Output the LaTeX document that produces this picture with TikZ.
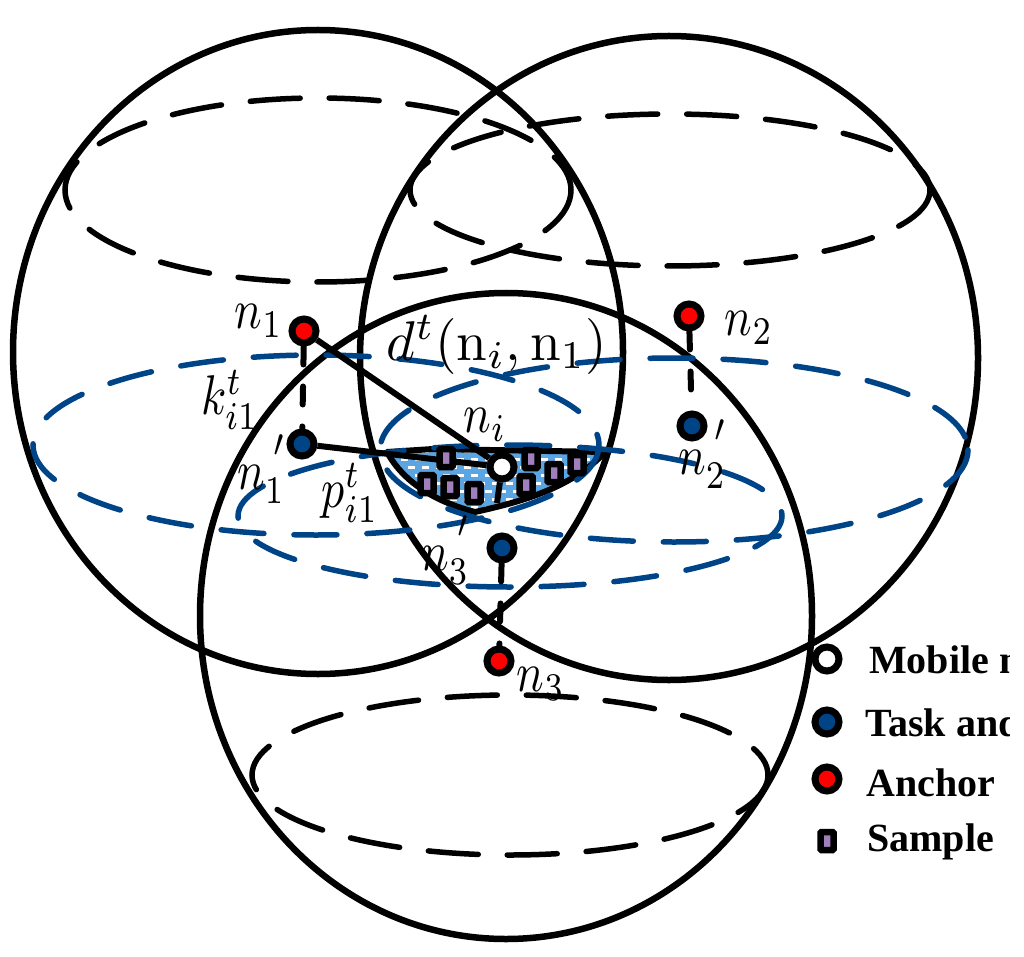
\documentclass[tikz,border=0pt]{standalone}
\usepackage{fontspec}
\newfontfamily\legendfont{Liberation Serif}
\usetikzlibrary{positioning}
\definecolor{navy}{HTML}{004488}
\definecolor{lensblue}{HTML}{5AA5E2}
\definecolor{sampleviolet}{HTML}{A080BC}
\newcommand{\hiprime}{^{\smash{\kern2pt\raisebox{.5ex}{$\scriptstyle\prime$}}}}
\tikzset{sphere/.style={draw=black,line width=6.5pt},blackdash/.style={draw=black,line width=5.5pt,line cap=round,dash pattern=on 50pt off 29pt},bluedash/.style={draw=navy,line width=5.5pt,line cap=round,dash pattern=on 43pt off 30pt},
dev/.style={circle,draw=black,line width=7pt,minimum size=24pt,inner sep=0pt},sample/.style={rectangle,draw=black,fill=sampleviolet,line width=6.5pt,rounded corners=1pt,minimum width=13pt,minimum height=18pt,inner sep=0pt},
lab/.style={xscale=4.6,yscale=5.6,inner sep=0pt},leg/.style={font=\legendfont\bfseries\fontsize{40}{42}\selectfont,anchor=west,inner sep=0pt},link/.style={draw=black,line width=6pt},vlink/.style={draw=black,line width=6pt,line cap=round,dash pattern=on 18pt off 22pt}}
\begin{document}
\begin{tikzpicture}[x=1pt,y=-1pt]
\useasboundingbox (0,0) rectangle (1024,957);
\fill[white] (0,0) rectangle (1024,957);
% spheres
\draw[sphere] (318,352) ellipse [x radius=305,y radius=322];\draw[sphere] (669,358) ellipse [x radius=309,y radius=322];\draw[sphere] (506,616) ellipse [x radius=306,y radius=323];
\draw[blackdash] (318,190) ellipse [x radius=253,y radius=92];\draw[blackdash] (670,190) ellipse [x radius=260,y radius=76];\draw[blackdash] (510,775) ellipse [x radius=258,y radius=80];
% overlap region
\begin{scope}
\clip (387,452)--(433,449)--(605,452) .. controls (570,490) and (515,503) .. (475,512) .. controls (440,503) and (405,485) .. (387,452)--cycle;
\fill[lensblue] (380,440) rectangle (610,520);
\foreach \r in {0,...,8}\foreach \c in {0,...,16}\fill[white] ({380+14*\c+7*mod(\r,2)},{450+8*\r}) rectangle +(7,2.5);
\end{scope}
\draw[black,line width=6pt,line join=round] (387,452)--(433,449)--(605,452) .. controls (570,490) and (515,503) .. (475,512) .. controls (440,503) and (405,485) .. (387,452)--cycle;
\draw[bluedash] (316,445) ellipse [x radius=283,y radius=90];\draw[bluedash] (674,450) ellipse [x radius=294,y radius=92];\draw[bluedash] (510,516) ellipse [x radius=272,y radius=71];
% nodes
\node[dev,fill=red] (n1) at (304,331) {};\node[dev,fill=navy] (m1) at (302,444) {};\node[dev,fill=red] (n2) at (689,316) {};\node[dev,fill=navy] (m2) at (692,426) {};\node[dev,fill=red] (n3) at (499,661) {};\node[dev,fill=navy] (m3) at (502,548) {};\node[dev,fill=white] (ni) at (502,467) {};
\coordinate (nidash) at (497,503);
\draw[link] (n1)--(ni);\draw[link] (m1)--(ni);\draw[link] (ni)--(nidash);
\draw[vlink] (n1)--(m1);\draw[vlink] (n2)--(m2);\draw[vlink] (m3)--(n3);
\foreach \x/\y in {446/458,427/484,450/487,474/493,531/459,526/485,554/473,577/464}\node[sample] at (\x,\y) {};
% labels
\node[lab] (ln1) at (259,321) {$n_1$};\node[lab] (lk) at (230,400) {$k_{i1}^t$};\node[lab] (lm1) at (262,484) {$n_1\hiprime$};\node[lab] (lp) at (350,493) {$p_{i1}^t$};
\node[lab,xscale=1.2] (ld) at (497,345) {$d^t(\mathrm{n}_i,\mathrm{n}_1)$};\node[lab] (lni) at (485,425) {$n_i$};\node[lab] (ln2) at (749,328) {$n_2$};\node[lab] (lm2) at (703,469) {$n_2\hiprime$};\node[lab] (lm3) at (446,565) {$n_3\hiprime$};\node[lab] (ln3) at (541,684) {$n_3$};
% legend
\node[dev,fill=white] (kmob) at (827,659) {};\node[dev,fill=navy] (ktask) at (827,722) {};\node[dev,fill=red] (kanc) at (827,779) {};\node[sample] (ksam) at (827,841) {};
\begin{scope}
\clip (850,630) rectangle (1009,880);
\node[leg] (tmob) at (869,660) {Mobile n};\node[leg] (ttask) at (865,723) {Task and};\node[leg] (tanc) at (866,783) {Anchor};\node[leg] (tsam) at (867,842) {Sample};
\end{scope}
\end{tikzpicture}
\end{document}
